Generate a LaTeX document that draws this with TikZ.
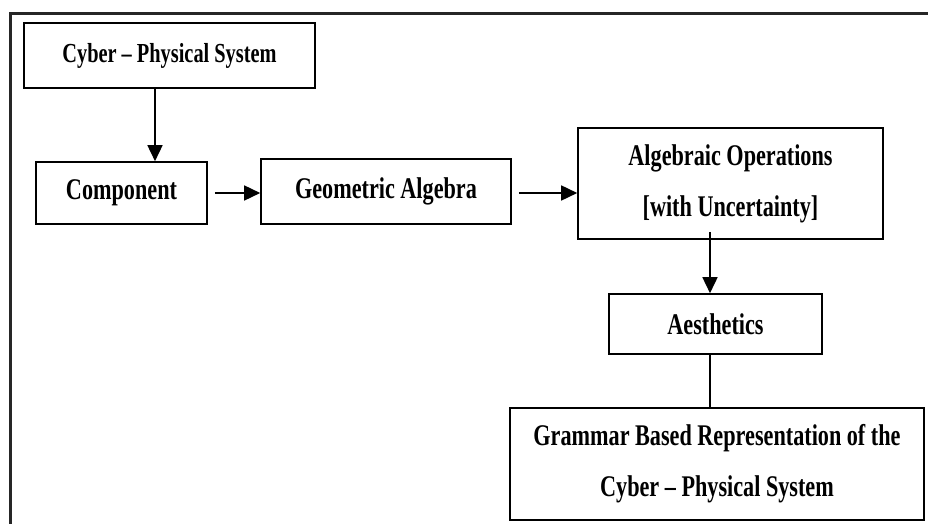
\documentclass[tikz,border=0pt]{standalone}
\usepackage{fontspec}
\setmainfont{Liberation Serif}[FakeStretch=0.74]
\usetikzlibrary{arrows.meta}

\begin{document}
\begin{tikzpicture}[x=1pt, y=-1pt]

% --- Define reusable styles and key coordinates ---
\tikzset{
    block/.style={
        draw, line width=1.6pt, align=center, inner sep=0pt,
        font=\fontsize{30}{51}\selectfont\bfseries
    },
    flow/.style={
        line width=1.6pt, -{Triangle[length=16pt, width=15pt]}
    }
}
% Define the horizontal level of the upper row and the x of the right column
\def\rowlevel{193}
\def\columnx{710}

\useasboundingbox (0,0) rectangle (928,524);

% 1. Draw the outer frame (only its left and top edges fall inside the picture)
\draw[line width=3pt, black!85] (10.5,524) -- (10.5,13.5) -- (928,13.5);

% 2. Draw the blocks of the upper row
\node[block, minimum width=291pt, minimum height=65pt, font=\fontsize{27.5}{51}\selectfont\bfseries] (cps) at (169.5,55.5) {Cyber -- Physical System};
\node[block, minimum width=171pt, minimum height=62pt] (component) at (121.5,\rowlevel) {Component};
\node[block, minimum width=250pt, minimum height=65pt] (geometric) at (386,191.5) {Geometric Algebra};
\node[block, minimum width=305pt, minimum height=111pt] (operations) at (730.5,183.5) {Algebraic Operations\\{[with Uncertainty]}};

% 3. Draw the blocks of the right column
\node[block, minimum width=213pt, minimum height=60pt] (aesthetics) at (715.5,324) {Aesthetics};
\node[block, minimum width=414pt, minimum height=112pt] (grammar) at (717,464) {Grammar Based Representation of the\\Cyber -- Physical System};

% 4. Draw the connectors
\coordinate (drop) at (155,0);
\coordinate (column) at (\columnx,0);
\draw[flow] (cps.south -| drop) -- (component.north -| drop);
\draw[flow, shorten <=7pt] (component.east) -- (component.east -| geometric.west);
\draw[flow, shorten <=7pt] (geometric.east |- component.east) -- (operations.west |- component.east);
\draw[flow, shorten <=-8pt] (operations.south -| column) -- (aesthetics.north -| column);
\draw[line width=1.6pt] (aesthetics.south -| column) -- (grammar.north -| column);

\end{tikzpicture}
\end{document}
